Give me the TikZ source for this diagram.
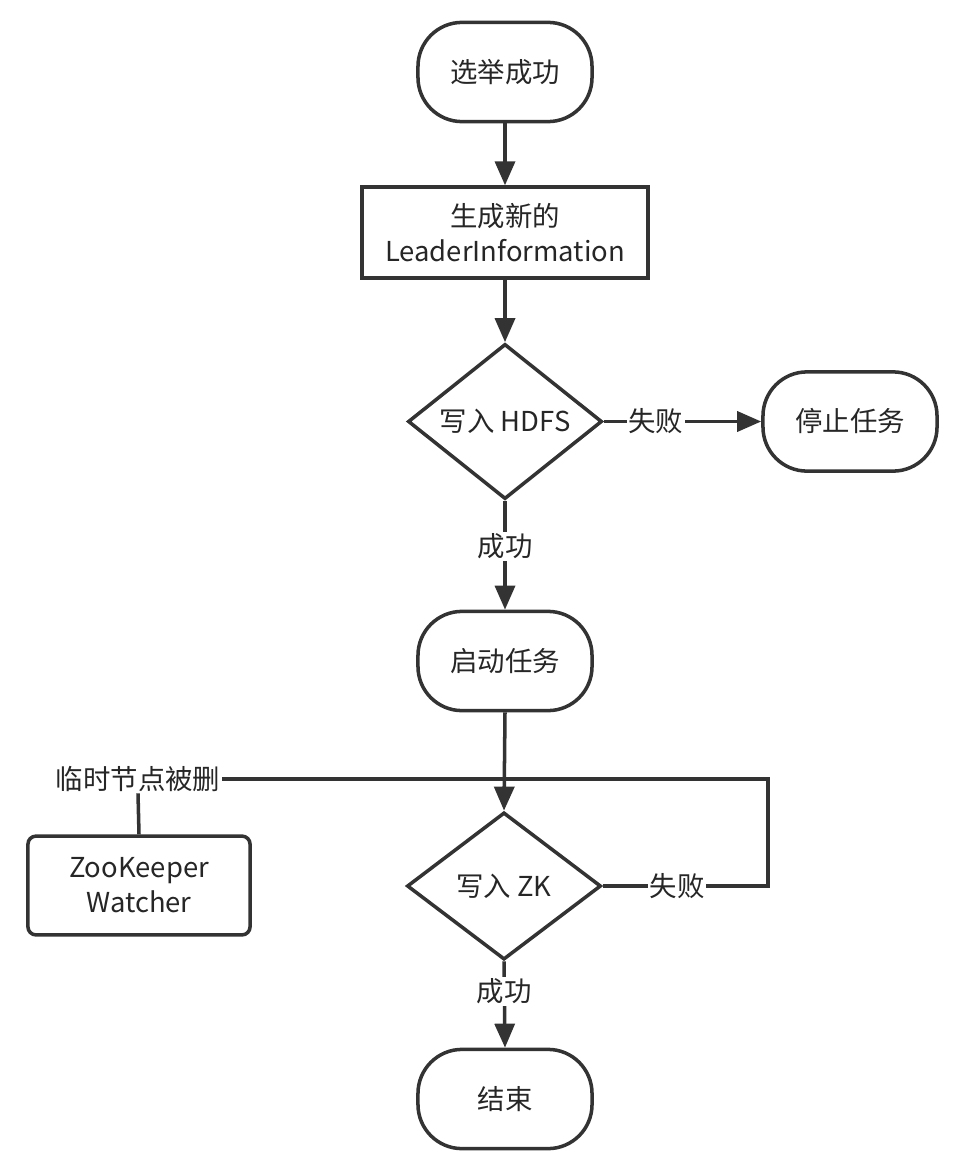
\documentclass[tikz,border=0pt]{standalone}
\usepackage{fontspec}
\setmainfont{Noto Sans CJK SC}
\usetikzlibrary{shapes.geometric}
\usetikzlibrary{arrows.meta}
\tikzset{
    every node/.style={font=\fontsize{19.5pt}{25pt}\selectfont, text=black!85},
    terminal/.style={shape=rectangle, rounded corners=1.1cm, draw=black!80, line width=2.5pt, minimum width=4.35cm, minimum height=2.48cm},
    process/.style={shape=rectangle, draw=black!80, line width=2.5pt, minimum width=7.15cm, minimum height=2.27cm, align=center},
    watcher/.style={shape=rectangle, rounded corners=0.2cm, draw=black!80, line width=2.5pt, minimum width=5.55cm, minimum height=2.47cm, align=center},
    decision/.style={shape=diamond, draw=black!80, line width=2.5pt, minimum width=4.85cm, minimum height=3.68cm, inner sep=0pt},
    flow/.style={draw=black!80, line width=2.5pt},
    arrowflow/.style={flow, -{Triangle[length=0.6cm, width=0.5cm]}},
    edgelabel/.style={fill=white, inner sep=1pt}}

\begin{document}
\begin{tikzpicture}[x=0.025cm, y=-0.025cm]
    \useasboundingbox (0,0) rectangle (956,1156);

    \node[terminal] (elected) at (505,72) {选举成功};
    \node[process] (info) at (505,232.5) {生成新的\\LeaderInformation};
    \node[decision] (hdfs) at (505,421.5) {写入 HDFS};
    \node[terminal] (stop) at (850,421.5) {停止任务};
    \node[terminal] (run) at (505,661) {启动任务};
    \node[decision] (zk) at (504,886) {写入 ZK};
    \node[terminal] (finish) at (505,1099) {结束};
    \node[watcher] (zkwatch) at (139,885.5) {ZooKeeper\\Watcher};
    \node[inner sep=1pt] (deleted) at (138,779) {临时节点被删};
    \coordinate (loop) at (768,779);

    \draw[arrowflow] (elected) -- (info);
    \draw[arrowflow] (info) -- (hdfs);
    \draw[arrowflow] (hdfs.east) -- node[edgelabel, pos=0.33] {失败} (stop.west);
    \draw[arrowflow] (hdfs.south) -- node[edgelabel, pos=0.42] {成功} (run.north);
    \draw[arrowflow] (run.south) -- (zk.north);
    \draw[flow] (zk.east) -- node[edgelabel, pos=0.45] {失败} (zk.east -| loop) -- (loop) -- (deleted.east);
    \draw[flow] (deleted.south) -- (zkwatch.north);
    \draw[arrowflow] (zk.south) -- node[edgelabel, pos=0.35] {成功} (finish.north);

\end{tikzpicture}
\end{document}
